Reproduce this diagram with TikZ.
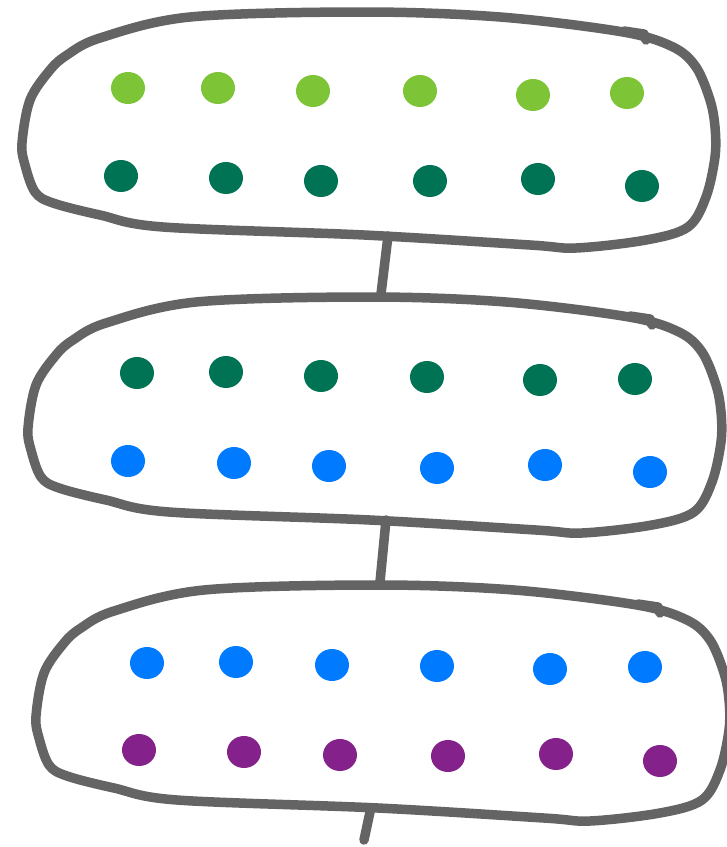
\documentclass[tikz,border=0pt]{standalone}
\usetikzlibrary{shapes.geometric}
\definecolor{lgreen}{HTML}{7DC436}
\definecolor{dgreen}{HTML}{007355}
\definecolor{dblue}{HTML}{007BFF}
\definecolor{dpurple}{HTML}{84218A}
\definecolor{outline}{HTML}{646464}
\begin{document}
\begin{tikzpicture}[x=1pt,y=-1pt,
  blob/.style={draw=outline,line width=9.5pt,line join=round,line cap=round},
  link/.style={draw=outline,line width=9.5pt,line cap=round},
  dot/.style={ellipse,draw=none,inner sep=0pt,minimum width=34pt,minimum height=32pt},
  lg/.style={dot,fill=lgreen},
  dg/.style={dot,fill=dgreen},
  bl/.style={dot,fill=dblue},
  pu/.style={dot,fill=dpurple}]
\useasboundingbox (0,0) rectangle (727,847);
\fill[white] (0,0) rectangle (727,847);
\def\blobpath{plot[smooth cycle,tension=0.55] coordinates {
 (364,12) (500,17) (623,32) (673,47) (696,67) (710,100) (715,127) (715,157)
 (706,197) (688,227) (646,240) (576,248) (530,245) (364,235) (163,227)
 (100,215) (53,203) (35,192) (25,165) (22,143) (30,100) (50,70) (67,55)
 (100,38) (190,17)}}
\foreach \dx/\dy in {0/0, 6/285, 14/573}{
  \begin{scope}[shift={(\dx,\dy)}]
    \draw[blob] \blobpath;
    \draw[blob] (624,31) -- (644,34) -- (646,40);
  \end{scope}
}
% row dots, blob 1
\node[lg] (a1) at (128,88) {};
\node[lg] (a2) at (218,88) {};
\node[lg] (a3) at (313,91) {};
\node[lg] (a4) at (420,91) {};
\node[lg] (a5) at (533,95) {};
\node[lg] (a6) at (627,93) {};
\node[dg] (b1) at (121,176) {};
\node[dg] (b2) at (226,178) {};
\node[dg] (b3) at (321,181) {};
\node[dg] (b4) at (430,181) {};
\node[dg] (b5) at (538,179) {};
\node[dg] (b6) at (642,186) {};
% blob 2
\node[dg] (c1) at (137,373) {};
\node[dg] (c2) at (226,372) {};
\node[dg] (c3) at (321,376) {};
\node[dg] (c4) at (427,377) {};
\node[dg] (c5) at (540,380) {};
\node[dg] (c6) at (635,379) {};
\node[bl] (d1) at (128,461) {};
\node[bl] (d2) at (234,463) {};
\node[bl] (d3) at (329,466) {};
\node[bl] (d4) at (437,468) {};
\node[bl] (d5) at (545,465) {};
\node[bl] (d6) at (650,472) {};
% blob 3
\node[bl] (e1) at (147,663) {};
\node[bl] (e2) at (236,662) {};
\node[bl] (e3) at (332,665) {};
\node[bl] (e4) at (437,666) {};
\node[bl] (e5) at (550,669) {};
\node[bl] (e6) at (645,667) {};
\node[pu] (f1) at (139,750) {};
\node[pu] (f2) at (244,752) {};
\node[pu] (f3) at (340,755) {};
\node[pu] (f4) at (448,756) {};
\node[pu] (f5) at (556,754) {};
\node[pu] (f6) at (660,761) {};
% connectors
\coordinate (t1) at (388,236);
\coordinate (t2) at (381,294);
\coordinate (t3) at (386,520);
\coordinate (t4) at (380,582);
\coordinate (t5) at (370,812);
\coordinate (t6) at (364,840);
\draw[link] (t1) -- (t2);
\draw[link] (t3) -- (t4);
\draw[link] (t5) -- (t6);
\end{tikzpicture}
\end{document}
